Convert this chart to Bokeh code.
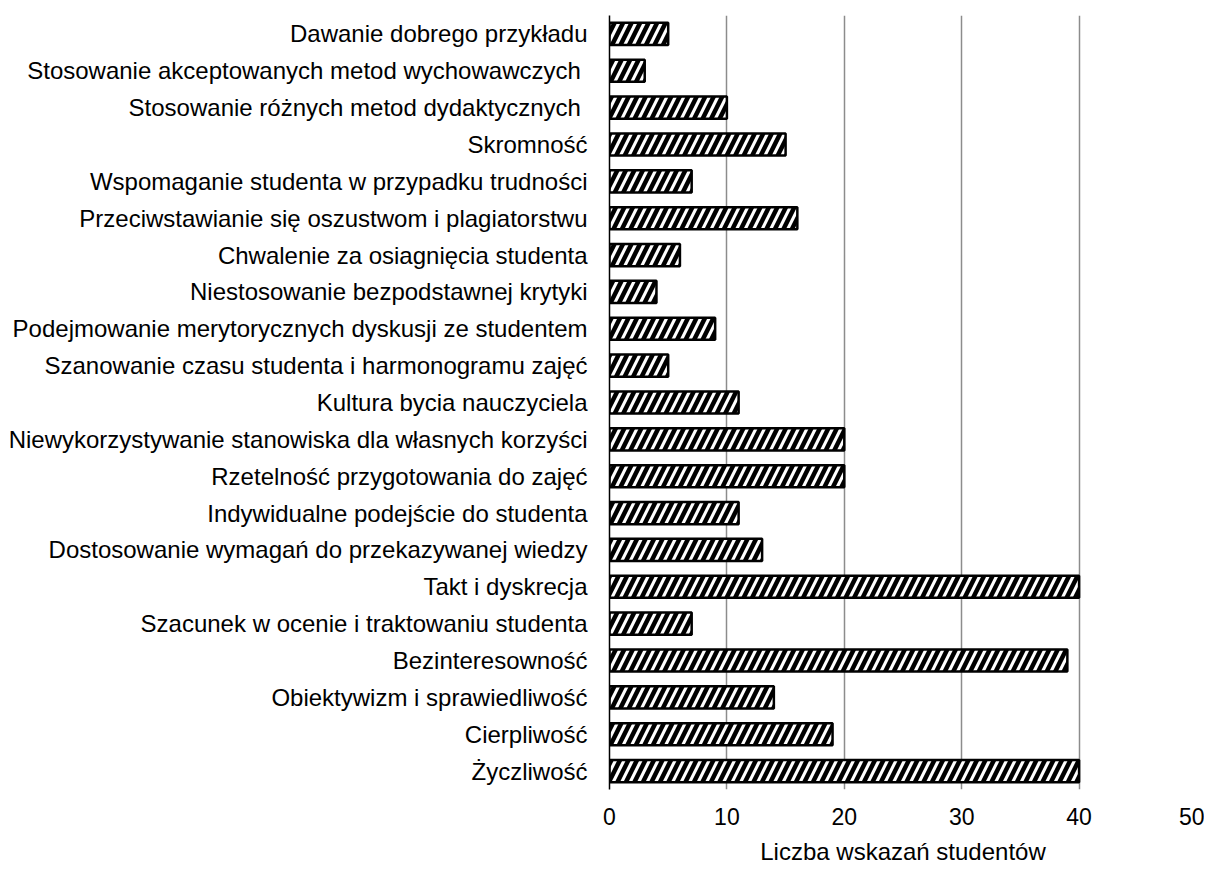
from bokeh.plotting import figure
from bokeh.models import FactorRange
from bokeh.embed import file_html
from bokeh.resources import INLINE

categories = [
    "Dawanie dobrego przykładu",
    "Stosowanie akceptowanych  metod wychowawczych",
    "Stosowanie różnych metod dydaktycznych ",
    "Skromność",
    "Wspomaganie studenta w przypadku trudności",
    "Przeciwstawianie się oszustwom i plagiatorstwu",
    "Chwalenie za osiagnięcia studenta",
    "Niestosowanie bezpodstawnej krytyki",
    "Podejmowanie merytorycznych dyskusji ze studentem",
    "Szanowanie czasu studenta i harmonogramu zajęć",
    "Kultura bycia nauczyciela",
    "Niewykorzystywanie stanowiska dla własnych korzyści",
    "Rzetelność przygotowania do zajęć",
    "Indywidualne podejście do studenta",
    "Dostosowanie wymagań do przekazywanej wiedzy",
    "Takt i dyskrecja",
    "Szacunek w ocenie i traktowaniu studenta",
    "Bezinteresowność",
    "Obiektywizm i sprawiedliwość",
    "Cierpliwość",
    "Życzliwość",
]
values = [5, 3, 10, 15, 7, 16, 6, 4, 9, 5, 11, 20, 20, 11, 13, 40, 7, 39, 14, 19, 40]
x_ticks = [0, 10, 20, 30, 40, 50]
x_title = "Liczba wskazań studentów"

FONT = "Liberation Sans"

p = figure(
    width=1204, height=867,
    y_range=FactorRange(*reversed(categories), range_padding=0),
    x_range=(0, 50),
    output_backend="svg", toolbar_location=None,
    min_border_left=609, min_border_right=8, min_border_top=15, min_border_bottom=60,
)
p.hbar(y=categories, right=values, left=0, height=0.6,
       fill_color="white", line_color="black", line_width=2.5,
       hatch_pattern="/", hatch_color="black", hatch_weight=4.5, hatch_scale=17)

p.outline_line_color = None
p.ygrid.grid_line_color = None
p.xgrid.grid_line_color = "#8c8c8c"
p.xgrid.grid_line_width = 1.5
p.xaxis.ticker = x_ticks

p.yaxis.axis_line_color = "black"
p.yaxis.axis_line_width = 1.5
p.yaxis.major_tick_line_color = None
p.yaxis.minor_tick_line_color = None
p.yaxis.major_label_text_font = FONT
p.yaxis.major_label_text_font_size = "24px"
p.yaxis.major_label_text_color = "black"
p.yaxis.major_label_standoff = 16

p.xaxis.axis_line_color = None
p.xaxis.major_tick_line_color = None
p.xaxis.minor_tick_line_color = None
p.xaxis.major_label_text_font = FONT
p.xaxis.major_label_text_font_size = "23px"
p.xaxis.major_label_text_color = "black"
p.xaxis.major_label_standoff = 12
p.xaxis.axis_label = x_title
p.xaxis.axis_label_text_font = FONT
p.xaxis.axis_label_text_font_size = "24px"
p.xaxis.axis_label_text_font_style = "normal"
p.xaxis.axis_label_text_color = "black"
p.xaxis.axis_label_standoff = 10

open("out.html", "w").write(file_html(p, INLINE))
